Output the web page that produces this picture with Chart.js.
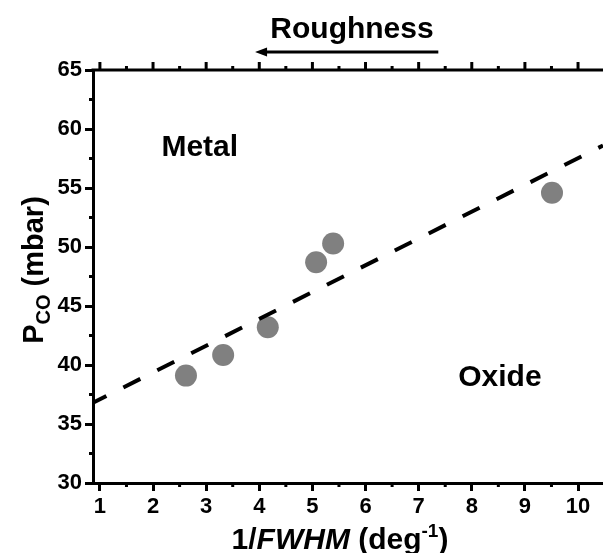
<!DOCTYPE html>
<html>
<head>
<meta charset="utf-8">
<script src="https://cdn.jsdelivr.net/npm/chart.js@4.4.1/dist/chart.umd.min.js"></script>
<style>
  html, body { margin: 0; padding: 0; background: #fff; }
  #wrap { width: 603px; height: 553px; }
</style>
</head>
<body>
<div id="wrap"><canvas id="chart" width="603" height="553"></canvas></div>
<script>
// measured points: 1/FWHM (deg^-1) vs P_CO (mbar)
const pointX = [2.62, 3.32, 4.16, 5.07, 5.39, 9.51];
const pointY = [39.1, 40.85, 43.2, 48.7, 50.3, 54.6];

// dashed boundary line (ends of the drawn segment)
const fitX = [0.87, 10.47];
const fitY = [36.8, 58.6];

// roughness arrow along the top (tail, head) in x units
const arrowX = [7.37, 3.92];

const regionLabels = ['Metal', 'Oxide'];
const regionX = [2.88, 8.53];
const regionY = [58.4, 38.9];

const FONT = '"Liberation Sans", Arial, sans-serif';
const black = '#000';
const grey = '#808080';

function drawRich(ctx, parts, x, y) {
  // parts: {text, size, italic, shift}
  let total = 0;
  for (const p of parts) {
    ctx.font = `${p.italic ? 'italic ' : ''}bold ${p.size}px ${FONT}`;
    p.w = ctx.measureText(p.text).width;
    total += p.w;
  }
  let cx = x - total / 2;
  for (const p of parts) {
    ctx.font = `${p.italic ? 'italic ' : ''}bold ${p.size}px ${FONT}`;
    ctx.fillText(p.text, cx, y + (p.shift || 0));
    cx += p.w;
  }
}

const extras = {
  id: 'extras',
  afterDraw(chart) {
    const ctx = chart.ctx;
    const xs = chart.scales.x;
    const ys = chart.scales.y;
    const area = chart.chartArea;
    ctx.save();
    ctx.strokeStyle = black;
    ctx.fillStyle = black;

    // top axis line
    ctx.lineWidth = 3;
    ctx.beginPath();
    ctx.moveTo(area.left - 1.5, area.top);
    ctx.lineTo(area.right, area.top);
    ctx.stroke();

    // x ticks: minor at bottom, major + minor on top
    for (let v = 1; v <= 10.5; v += 0.5) {
      const px = xs.getPixelForValue(v);
      const major = Number.isInteger(v);
      const len = major ? 8 : 4;
      ctx.lineWidth = 3;
      ctx.beginPath();
      if (!major) {
        ctx.moveTo(px, area.bottom);
        ctx.lineTo(px, area.bottom + len);
      }
      ctx.moveTo(px, area.top);
      ctx.lineTo(px, area.top - len);
      ctx.stroke();
    }
    // y minor ticks
    for (let v = 32.5; v < 65; v += 5) {
      const py = ys.getPixelForValue(v);
      ctx.beginPath();
      ctx.moveTo(area.left, py);
      ctx.lineTo(area.left - 4, py);
      ctx.stroke();
    }

    // roughness arrow
    const ay = 52;
    const ax0 = xs.getPixelForValue(arrowX[0]);
    const ax1 = xs.getPixelForValue(arrowX[1]);
    ctx.lineWidth = 3;
    ctx.beginPath();
    ctx.moveTo(ax0, ay);
    ctx.lineTo(ax1 + 8, ay);
    ctx.stroke();
    ctx.beginPath();
    ctx.moveTo(ax1, ay);
    ctx.lineTo(ax1 + 12, ay - 4.5);
    ctx.lineTo(ax1 + 12, ay + 4.5);
    ctx.closePath();
    ctx.fill();

    ctx.textBaseline = 'alphabetic';
    ctx.textAlign = 'left';
    drawRich(ctx, [{ text: 'Roughness', size: 30 }], 352, 38);

    // region labels
    ctx.textBaseline = 'middle';
    regionLabels.forEach((t, i) => {
      drawRich(ctx, [{ text: t, size: 30 }],
        xs.getPixelForValue(regionX[i]), ys.getPixelForValue(regionY[i]));
    });

    // x title
    ctx.textBaseline = 'alphabetic';
    drawRich(ctx, [
      { text: '1/', size: 30 },
      { text: 'FWHM', size: 30, italic: true },
      { text: ' (deg', size: 30 },
      { text: '-1', size: 19, shift: -12 },
      { text: ')', size: 30 }
    ], 340, 549);

    // y title
    ctx.translate(43, 270);
    ctx.rotate(-Math.PI / 2);
    drawRich(ctx, [
      { text: 'P', size: 29 },
      { text: 'CO', size: 20, shift: 7 },
      { text: ' (mbar)', size: 29 }
    ], 0, 0);
    ctx.restore();
  }
};

new Chart(document.getElementById('chart'), {
  type: 'scatter',
  data: {
    datasets: [
      {
        type: 'line',
        data: fitX.map((x, i) => ({ x, y: fitY[i] })),
        borderColor: black,
        borderWidth: 4,
        borderDash: [19, 19],
        borderDashOffset: 4,
        pointRadius: 0,
        fill: false,
        order: 0
      },
      {
        data: pointX.map((x, i) => ({ x, y: pointY[i] })),
        backgroundColor: grey,
        borderWidth: 0,
        pointRadius: 11,
        pointHoverRadius: 11,
        order: 1
      }
    ]
  },
  options: {
    responsive: false,
    animation: false,
    events: [],
    layout: { autoPadding: false, padding: { top: 70, bottom: 30, left: 0, right: 0 } },
    plugins: { legend: { display: false }, tooltip: { enabled: false } },
    scales: {
      x: {
        type: 'linear',
        position: 'bottom',
        min: 0.87,
        max: 10.47,
        afterFit(s) { s.height = 40; },
        ticks: {
          stepSize: 1,
          includeBounds: false,
          color: black,
          padding: 3,
          font: { family: FONT, size: 22, weight: 'bold' }
        },
        grid: { drawOnChartArea: false, tickLength: 8, tickWidth: 3, tickColor: black },
        border: { color: black, width: 3 }
      },
      y: {
        min: 30,
        max: 65,
        afterFit(s) { s.width = 93; },
        ticks: {
          stepSize: 5,
          color: black,
          padding: 3,
          font: { family: FONT, size: 22, weight: 'bold' }
        },
        grid: { drawOnChartArea: false, tickLength: 8, tickWidth: 3, tickColor: black },
        border: { color: black, width: 3 }
      }
    }
  },
  plugins: [extras]
});
</script>
</body>
</html>
